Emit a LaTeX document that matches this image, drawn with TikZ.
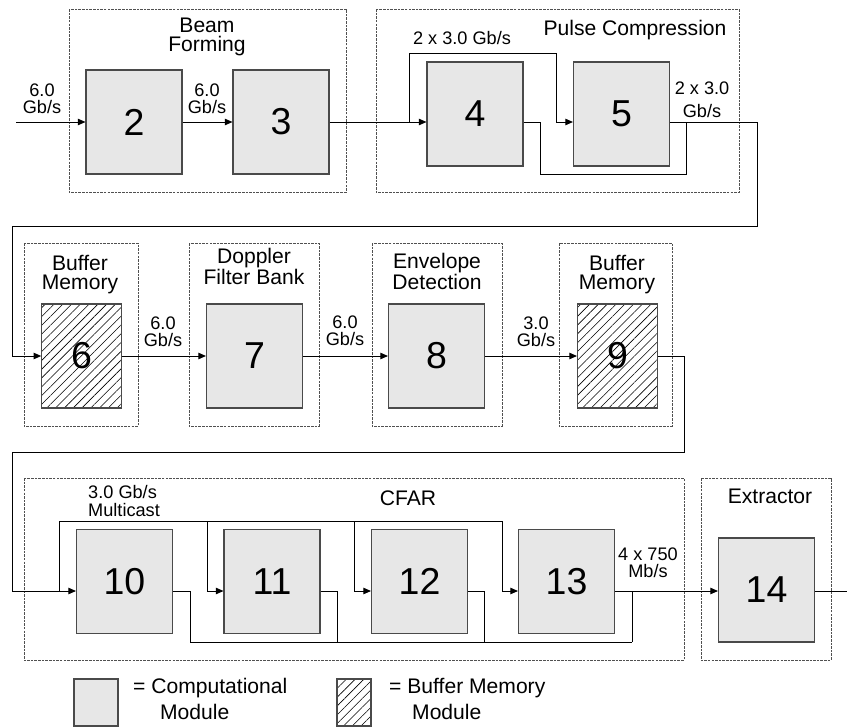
\documentclass[tikz,border=0pt]{standalone}
\usepackage{fontspec}
\setmainfont{Liberation Sans}
\usetikzlibrary{arrows.meta,patterns.meta}
\definecolor{compfill}{HTML}{E7E7E7}
\definecolor{boxedge}{HTML}{4A4A4A}
\definecolor{frameedge}{HTML}{505050}
\begin{document}
\begin{tikzpicture}[x=0.03cm, y=-0.03cm,
  font=\fontsize{18pt}{15.5pt}\selectfont,
  comp/.style={draw=boxedge, fill=compfill, line width=0.9pt, minimum width=2.88cm, minimum height=3.12cm, inner sep=0pt, font=\fontsize{32pt}{32pt}\selectfont},
  buf/.style={draw=boxedge, line width=0.9pt, pattern={Lines[angle=45,distance=5.3pt,line width=0.5pt]}, minimum width=2.4cm, minimum height=3.12cm, inner sep=0pt, font=\fontsize{32pt}{32pt}\selectfont},
  frame/.style={draw=frameedge, dash pattern=on 2.2pt off 0.9pt, line width=0.7pt},
  wire/.style={line width=0.8pt},
  arr/.style={wire, -{Triangle[length=6.5pt,width=5.5pt]}},
  lbl/.style={align=center, inner sep=0pt, anchor=base},
  rate/.style={lbl, font=\fontsize{15.5pt}{14pt}\selectfont}]
\useasboundingbox (0,0) rectangle (847,727);

% frames
\draw[frame] (69,9) rectangle (346,192);
\draw[frame] (376,9) rectangle (739,192);
\draw[frame] (24,243) rectangle (138,426);
\draw[frame] (189,243) rectangle (319,426);
\draw[frame] (372,243) rectangle (502,426);
\draw[frame] (559,243) rectangle (672,426);
\draw[frame] (24,478) rectangle (684,660);
\draw[frame] (701,478) rectangle (831,660);

% modules
\node[comp] (b2) at (134,122) {2};
\node[comp] (b3) at (281,122) {3};
\node[comp] (b4) at (475,114) {4};
\node[comp] (b5) at (621.5,114) {5};
\node[buf]  (b6) at (81.5,356) {6};
\node[comp] (b7) at (254.5,356) {7};
\node[comp] (b8) at (436.5,356) {8};
\node[buf]  (b9) at (617.5,356) {9};
\node[comp] (b10) at (124.5,581.5) {10};
\node[comp] (b11) at (272,581.5) {11};
\node[comp] (b12) at (419.5,581.5) {12};
\node[comp] (b13) at (566.5,581.5) {13};
\node[comp] (b14) at (766.5,590) {14};

% row 1 wires
\coordinate (in) at (16,122);
\coordinate (s4) at (409,122);
\coordinate (t5) at (556,53);
\coordinate (d4) at (540,174);
\coordinate (j5) at (686,122);
\coordinate (c1) at (757,122);
\coordinate (r1) at (757,226);
\coordinate (l1) at (12,226);
\draw[arr] (in) -- (b2);
\draw[arr] (b2) -- (b3);
\draw[arr] (b3.east) -- (b4.west |- s4);
\draw[arr] (s4) |- (t5) -- (t5 |- s4) -- (b5.west |- s4);
\draw[wire] (b4.east |- s4) -| (d4) -| (j5);
\draw[arr] (b5.east |- s4) -- (c1) -- (r1) -- (l1) |- (b6.west);

% row 2 wires
\coordinate (r2) at (684,452);
\coordinate (l2) at (12,452);
\coordinate (m3) at (59,591);
\draw[arr] (b6) -- (b7);
\draw[arr] (b7) -- (b8);
\draw[arr] (b8) -- (b9);
\draw[arr] (b9.east) -| (r2) -- (l2) |- (b10.west |- m3);

% row 3 wires
\coordinate (k11) at (207,521);
\coordinate (k12) at (354,521);
\coordinate (k13) at (502,521);
\coordinate (o10) at (190,642);
\coordinate (o11) at (337,642);
\coordinate (o12) at (484,642);
\coordinate (o13) at (632,642);
\coordinate (out) at (847,591);
\draw[wire] (m3) |- (k13);
\draw[arr] (k11) |- (b11.west |- m3);
\draw[arr] (k12) |- (b12.west |- m3);
\draw[arr] (k13) |- (b13.west |- m3);
\draw[wire] (b10.east |- m3) -| (o10) -- (o13);
\draw[wire] (b11.east |- m3) -| (o11);
\draw[wire] (b12.east |- m3) -| (o12);
\draw[wire] (o13) -- (o13 |- m3);
\draw[arr] (b13.east |- m3) -- (b14.west |- m3);
\draw[wire] (b14.east |- m3) -- (out);

% labels
\node[lbl] (tbf) at (207,51) {Beam\\Forming};
\node[rate] (ra) at (42,113) {6.0\\Gb/s};
\node[rate] (rb) at (207,113) {6.0\\Gb/s};
\node[lbl] (tpc) at (635,35) {Pulse Compression};
\node[rate] (rc) at (462,44) {2 x 3.0 Gb/s};
\node[rate] (rd) at (702,117) {2 x 3.0\\[5pt]Gb/s};
\node[lbl] (tb1) at (80,289) {Buffer\\Memory};
\node[rate] (re) at (163,346) {6.0\\Gb/s};
\node[lbl] (tdf) at (254,284) {Doppler\\Filter Bank};
\node[rate] (rf) at (345,345) {6.0\\Gb/s};
\node[lbl] (ted) at (437,289) {Envelope\\Detection};
\node[rate] (rg) at (536,346) {3.0\\Gb/s};
\node[lbl] (tb2) at (617,289) {Buffer\\Memory};
\node[rate, align=left, anchor=base west] (mc) at (88,516) {3.0 Gb/s\\[1pt]Multicast};
\node[lbl] (tcf) at (408,505) {CFAR};
\node[lbl] (tex) at (770,503) {Extractor};
\node[rate] (rh) at (648,577) {4 x 750\\Mb/s};

% legend
\node[comp, minimum width=1.32cm, minimum height=1.41cm] (lg1) at (96,702.5) {};
\node[buf, minimum width=1.02cm, minimum height=1.41cm] (lg2) at (354,702.5) {};
\node[lbl, align=left, anchor=base west] (lt1) at (133,719) {= Computational\\[4pt]\hspace*{23pt}Module};
\node[lbl, align=left, anchor=base west] (lt2) at (389,719) {= Buffer Memory\\[4pt]\hspace*{19.6pt}Module};
\end{tikzpicture}
\end{document}
